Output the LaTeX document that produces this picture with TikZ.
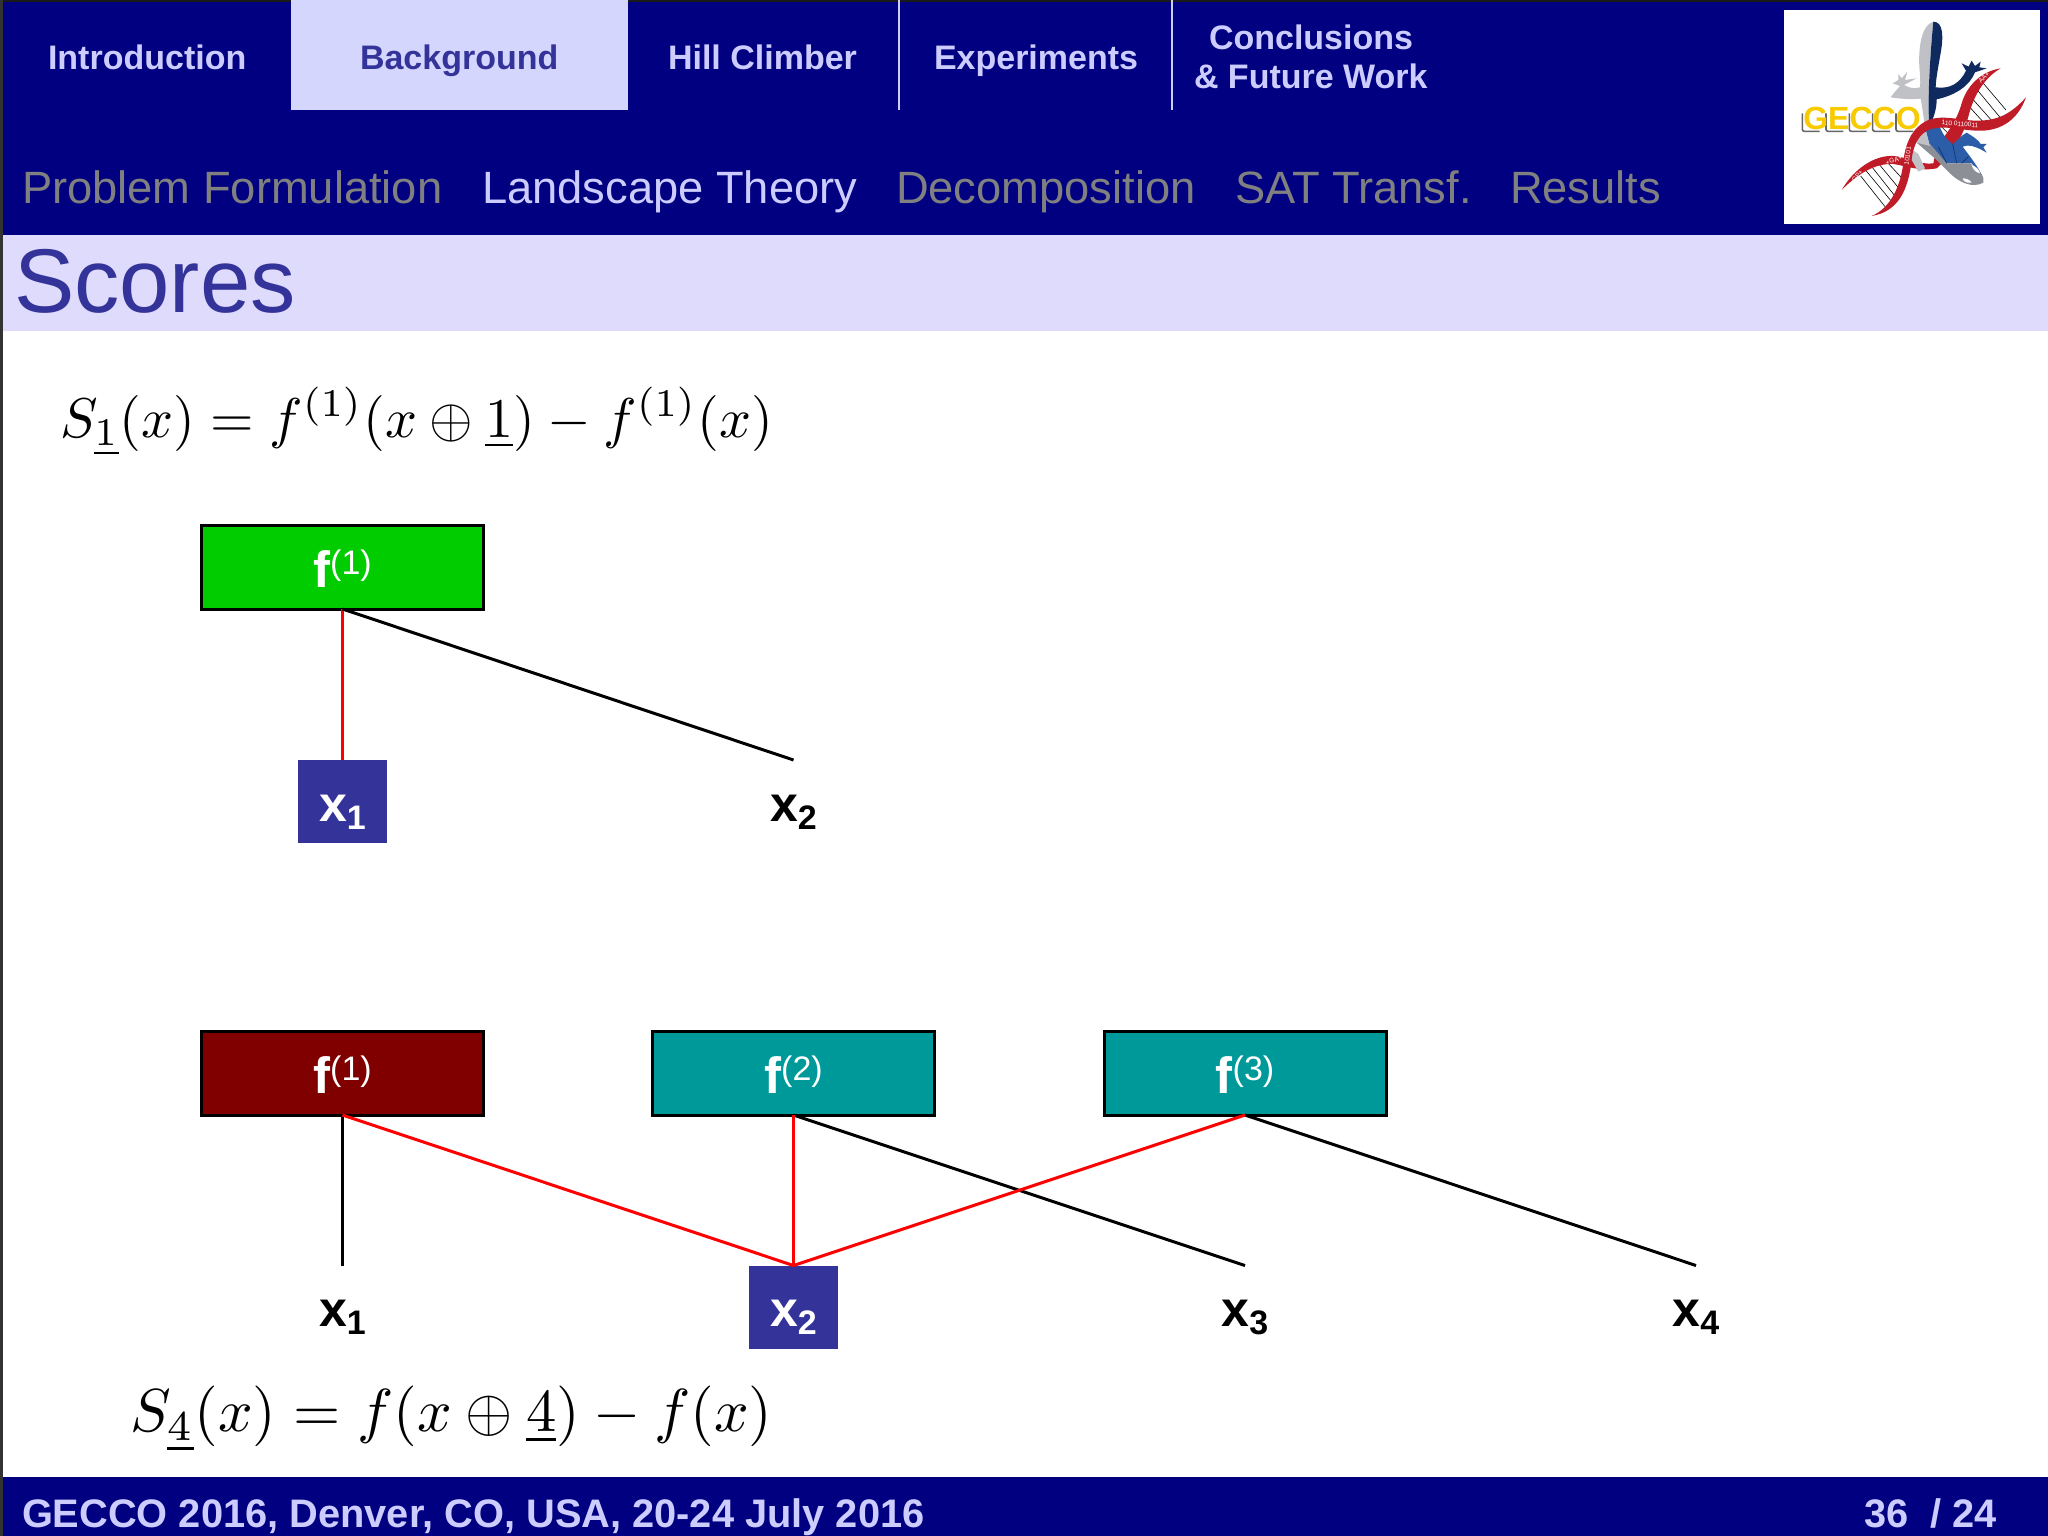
\documentclass[tikz,border=0pt]{standalone}
\usepackage{fontspec}
\setmainfont{Liberation Sans}
\definecolor{navy}{HTML}{000080}
\definecolor{navtext}{HTML}{CCCCFF}
\definecolor{tabbg}{HTML}{D5D6FD}
\definecolor{titlebg}{HTML}{DEDBFC}
\definecolor{titletext}{HTML}{333399}
\definecolor{subgrey}{HTML}{808080}
\definecolor{fgreen}{HTML}{00CC00}
\definecolor{fred}{HTML}{800000}
\definecolor{fteal}{HTML}{009999}
\definecolor{dnared}{HTML}{C01C28}
\definecolor{gnavy}{HTML}{0F2A5E}
\definecolor{ggrey}{HTML}{BFC1C6}
\definecolor{gblue}{HTML}{2B5DA8}
\definecolor{gmid}{HTML}{8C8F96}
\definecolor{gyellow}{HTML}{F7CB00}
\newcommand{\fsz}[1]{\fontsize{#1}{#1}\selectfont}
\newcommand{\funlab}[1]{{\fsz{51}\bfseries f}\raisebox{13pt}{\fsz{34}(#1)}}
\newcommand{\varlab}[1]{{\fsz{50}\bfseries x}\raisebox{-8pt}{\fsz{34}\bfseries #1}}
\tikzset{
  txt/.style={anchor=base west,inner sep=0pt,outer sep=0pt},
  nav/.style={txt,text=navtext,font=\fsz{34}\bfseries},
  sub/.style={txt,text=subgrey,font=\fsz{45.3}},
  foot/.style={txt,text=navtext,font=\fsz{39.8}\bfseries},
  fbox/.style={draw=black,line width=3pt,inner sep=0pt,outer sep=0pt,text=white,
    minimum width=282pt,text width=282pt,align=center,text height=62pt,text depth=22pt},
  varbox/.style={inner sep=0pt,outer sep=0pt,minimum width=89pt,text width=89pt,
    align=center,text height=61pt,text depth=22pt},
  hit/.style={varbox,fill=titletext,text=white},
  blackedge/.style={draw=black,line width=3pt},
  rededge/.style={draw=red,line width=3pt},
  thinblack/.style={draw=black,line width=2.2pt},
  thinred/.style={draw=red,line width=2.2pt},
  rung/.style={draw=black,line width=0.6pt},
  helixtxt/.style={inner sep=0pt,text=white,font=\fsz{6.5}},
  gshadow/.style={draw=black!60,line width=1.6pt,rounded corners=2pt},
}
\begin{document}
\begin{tikzpicture}[x=1pt,y=-1pt]
\useasboundingbox (0,0) rectangle (2048,1536);
\fill[white] (0,0) rectangle (2048,1536);
% bars
\fill[navy] (0,0) rectangle (2048,235);
\fill[titlebg] (0,235) rectangle (2048,331);
\fill[navy] (0,1477) rectangle (2048,1536);
\fill[black!90] (0,0) rectangle (2048,2);
\fill[black!80] (0,0) rectangle (2.5,1536);
\fill[tabbg] (291,0) rectangle (628,110.5);
\draw[navtext,line width=2.5pt] (899,0) -- (899,110);
\draw[navtext,line width=2.5pt] (1172,0) -- (1172,110);
% nav
\node[nav] (n1) at (48,70) {Introduction};
\node[nav,text=titletext] (n2) at (360,70) {Background};
\node[nav] (n3) at (668,70) {Hill Climber};
\node[nav] (n4) at (934,70) {Experiments};
\node[nav] (n5) at (1209,50) {Conclusions};
\node[nav] (n6) at (1194,89) {\& Future Work};
\node[sub] (s1) at (22,203) {Problem Formulation};
\node[sub,text=navtext] (s2) at (482,203) {Landscape Theory};
\node[sub] (s3) at (896,203) {Decomposition};
\node[sub] (s4) at (1235,203) {SAT Transf.};
\node[sub] (s5) at (1510,203) {Results};
\node[txt,text=titletext,font=\fsz{90.5}] (title) at (14,312) {Scores};
\node[foot] (ft) at (22,1527) {GECCO 2016, Denver, CO, USA, 20-24 July 2016};
\node[foot] (pg) at (1864,1527) {36\ \ / 24};
% logo
\fill[white] (1784,10) rectangle (2040,223.5);
\begin{scope}[xshift=1770pt,x=0.3333pt,y=-0.3333pt]
  % grey half of gecko
  \fill[ggrey] (490,65) .. controls (455,75) and (445,140) .. (448,200)
    .. controls (450,225) and (452,245) .. (450,262)
    .. controls (430,268) and (415,262) .. (402,255)
    -- (440,235) -- (405,240) -- (412,215) -- (395,235) -- (385,222) -- (385,240) -- (368,250) -- (390,258)
    .. controls (380,270) and (370,280) .. (362,292)
    .. controls (400,298) and (430,298) .. (452,296)
    .. controls (458,330) and (462,360) .. (465,385) -- (478,380)
    .. controls (472,300) and (480,170) .. cycle;
  % navy half of gecko
  \fill[gnavy] (490,65) .. controls (520,65) and (522,110) .. (510,170)
    .. controls (505,200) and (498,235) .. (497,262)
    .. controls (540,268) and (570,250) .. (588,212)
    -- (575,190) -- (596,200) -- (605,182) -- (615,198) -- (632,185) -- (628,202) -- (650,205)
    -- (615,217)
    .. controls (600,255) and (560,285) .. (500,298)
    .. controls (500,330) and (490,355) .. (478,380)
    .. controls (472,300) and (480,170) .. cycle;
  % rungs
  \draw[rung] (640,250) -- (708,330);
  \draw[rung] (622,270) -- (690,352);
  \draw[rung] (606,295) -- (668,365);
  \draw[rung] (596,318) -- (645,372);
  \draw[rung] (512,378) -- (560,425);
  \draw[rung] (350,485) -- (410,550);
  \draw[rung] (325,490) -- (395,575);
  \draw[rung] (305,500) -- (378,592);
  \draw[rung] (288,512) -- (365,605);
  \draw[rung] (272,528) -- (345,620);
  % DNA strand behind the gecko
  \fill[dnared] (692,205) .. controls (630,215) and (590,260) .. (575,310)
    .. controls (560,365) and (530,400) .. (500,440)
    -- (490,490)
    .. controls (440,495) and (410,470) .. (370,468)
    .. controls (310,465) and (250,510) .. (215,570)
    .. controls (270,515) and (320,490) .. (370,492)
    .. controls (410,498) and (450,515) .. (500,505)
    .. controls (540,470) and (580,410) .. (595,350)
    .. controls (610,290) and (640,235) .. cycle;
  % lower body
  \fill[gblue] (462,372) .. controls (480,365) and (495,360) .. (505,362)
    .. controls (510,395) and (530,420) .. (548,432)
    .. controls (565,420) and (575,405) .. (590,398)
    .. controls (610,410) and (625,420) .. (632,432)
    -- (650,432) -- (640,442) -- (650,458) -- (632,448)
    .. controls (615,440) and (595,432) .. (578,440)
    .. controls (600,470) and (625,500) .. (640,535)
    -- (605,490) -- (530,490) -- (480,440) -- cycle;
  \fill[gmid] (440,428) -- (480,432) -- (530,490) -- (600,490)
    .. controls (630,510) and (645,535) .. (640,548)
    .. controls (610,565) and (570,550) .. (540,520)
    -- (500,480) -- cycle;
  \fill[ggrey] (440,392) -- (462,372) -- (480,438) -- (440,428) -- cycle;
  \fill[ggrey] (420,445) -- (445,462) -- (465,505) -- (445,515) -- (425,480) -- cycle;
  \fill[white] (578,535) .. controls (590,535) and (600,540) .. (605,548) .. controls (590,550) and (580,545) .. cycle;
  \fill[white] (605,495) .. controls (620,500) and (628,510) .. (630,520) .. controls (618,518) and (608,508) .. cycle;
  \draw[gnavy,line width=0.5pt] (548,432) -- (560,490) (505,440) -- (530,490) (575,490) -- (595,470);
  % DNA strand in front
  \fill[dnared] (768,292) .. controls (720,345) and (680,362) .. (620,362)
    .. controls (570,362) and (510,340) .. (465,365)
    .. controls (430,385) and (410,420) .. (402,470)
    .. controls (395,560) and (360,625) .. (305,648)
    .. controls (385,635) and (415,570) .. (425,480)
    .. controls (430,430) and (450,400) .. (480,388)
    .. controls (520,375) and (570,390) .. (620,392)
    .. controls (680,395) and (740,370) .. cycle;
  \node[helixtxt,rotate=-4] (h1) at (570,372) {110 0110011};
  \node[helixtxt,rotate=18] (h2) at (372,481) {+GA+};
  \node[helixtxt,rotate=82] (h3) at (413,468) {10101};
  \node[helixtxt,rotate=50] (h4) at (262,528) {GP+};
  \node[helixtxt,rotate=45] (h5) at (642,232) {AA+};
  % GECCO lettering with its shadow on the left and underneath
  \foreach \lx in {97,168,238,308,378} {
    \draw[gshadow] (\lx,340) -- (\lx,394) -- (\lx+52,394);
  }
  \node[txt,font=\fsz{32}\bfseries,text=gyellow] (g1) at (100,389) {GECCO};
\end{scope}
% equations
\node[txt,scale=5.6] (eq1) at (60,437) {$S_{\underline{1}}(x) = f^{(1)}(x \oplus \underline{1}) - f^{(1)}(x)$};
\node[txt,scale=6.07] (eq2) at (130,1431) {$S_{\underline{4}}(x) = f(x \oplus \underline{4}) - f(x)$};
% top diagram
\node[fbox,fill=fgreen] (a1) at (342.5,567) {\funlab{1}};
\node[hit] (ax1) at (342.5,801.5) {\varlab{1}};
\node[varbox] (ax2) at (793.5,801.5) {\varlab{2}};
\path[thinred] (a1.south) -- (ax1.north);
\path[blackedge] (a1.south) -- (ax2.north);
% bottom diagram
\node[fbox,fill=fred] (b1) at (342.5,1073) {\funlab{1}};
\node[fbox,fill=fteal] (b2) at (793.5,1073) {\funlab{2}};
\node[fbox,fill=fteal] (b3) at (1245,1073) {\funlab{3}};
\node[varbox] (bx1) at (342.5,1307) {\varlab{1}};
\node[hit] (bx2) at (793.5,1307) {\varlab{2}};
\node[varbox] (bx3) at (1245,1307) {\varlab{3}};
\node[varbox] (bx4) at (1696,1307) {\varlab{4}};
\path[thinblack] (b1.south) -- (bx1.north);
\path[blackedge] (b2.south) -- (bx3.north);
\path[blackedge] (b3.south) -- (bx4.north);
\path[rededge] (b1.south) -- (bx2.north);
\path[thinred] (b2.south) -- (bx2.north);
\path[rededge] (b3.south) -- (bx2.north);
\end{tikzpicture}
\end{document}
